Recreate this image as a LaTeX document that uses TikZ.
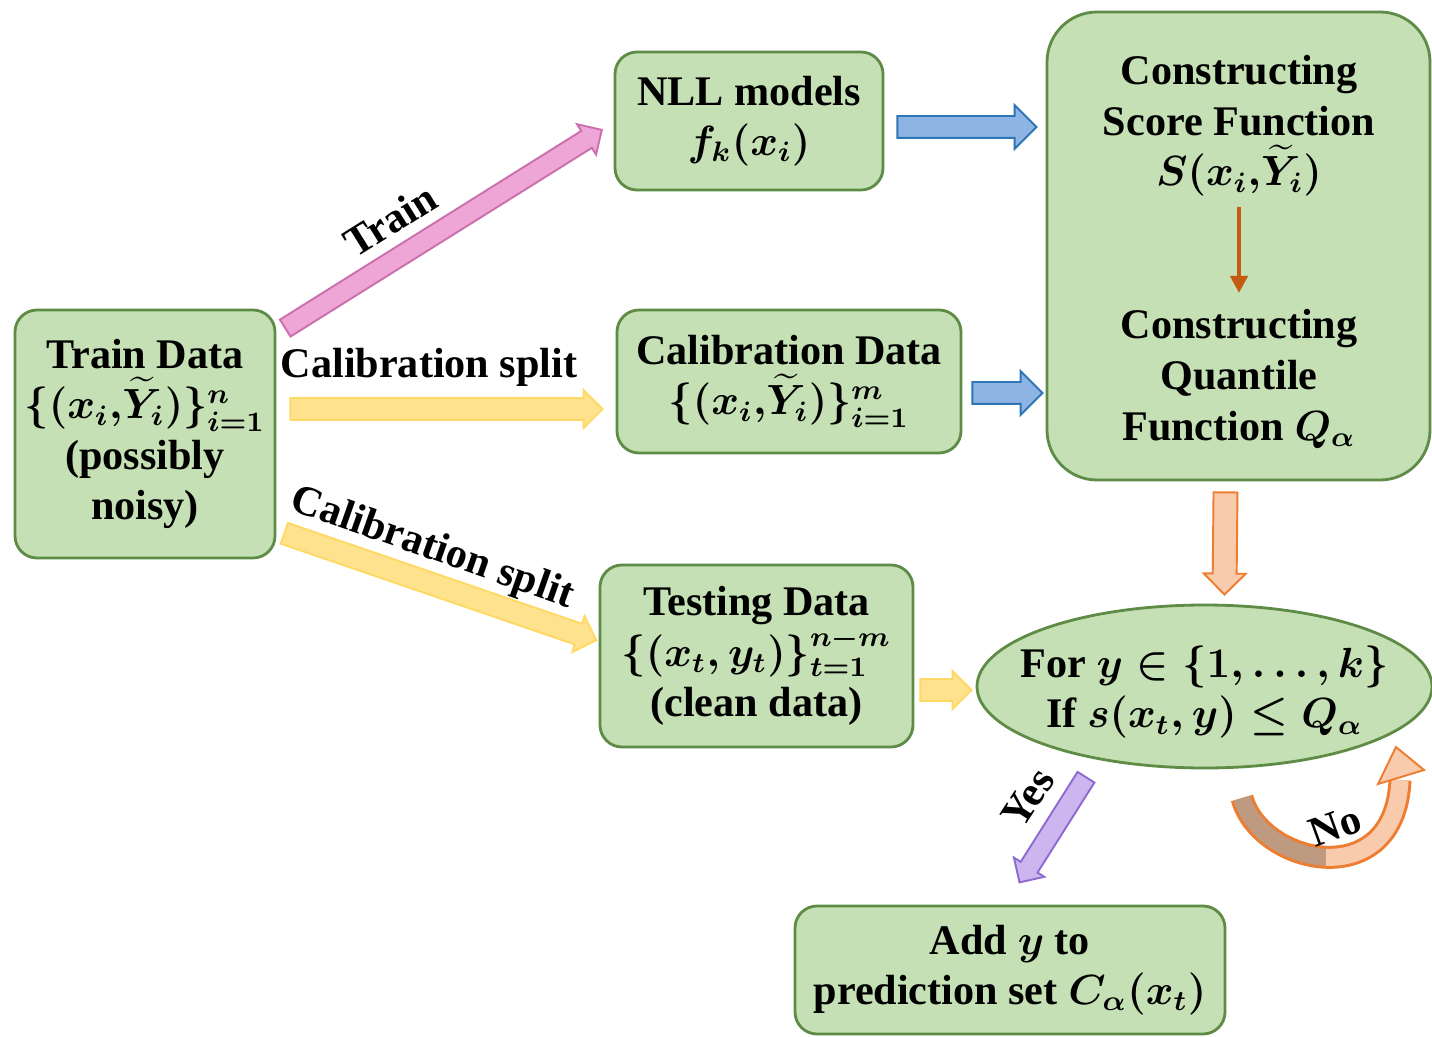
\documentclass[tikz,border=0pt]{standalone}
\usepackage{fontspec}
\setmainfont{Liberation Serif}
\usepackage{amsmath, amssymb}
\definecolor{boxfill}   {HTML}{C5E0B4}
\definecolor{boxline}   {HTML}{5E8C46}
\definecolor{pinkfill}  {HTML}{EDA6D6}
\definecolor{pinkline}  {HTML}{CC6FAE}
\definecolor{yelfill}   {HTML}{FFE28E}
\definecolor{yelline}   {HTML}{FFD966}
\definecolor{bluefill}  {HTML}{8DB4E2}
\definecolor{blueline}  {HTML}{2E75B6}
\definecolor{orgfill}   {HTML}{F8CBAD}
\definecolor{orgline}   {HTML}{ED7D31}
\definecolor{brownfill} {HTML}{BE9A80}
\definecolor{purfill}   {HTML}{CDB6EF}
\definecolor{purline}   {HTML}{8E6BD0}
\definecolor{innerarr}  {HTML}{C55A11}
\usetikzlibrary{arrows.meta, positioning, calc, shapes.geometric, shapes.arrows}

% block arrow laid from one coordinate to another
\newcommand\fatarrow[3]{%
  \path let \p1=($(#3)-(#2)$), \n1={atan2(\y1,\x1)}, \n2={veclen(\x1,\y1)} in
    node[#1, minimum height=\n2, rotate=\n1, anchor=tail] at (#2) {};}

\begin{document}
\begin{tikzpicture}[
    box/.style={draw=boxline, fill=boxfill, line width=0.8pt, rounded corners=0.22cm, align=center, inner sep=0pt, font=\fontsize{12}{14.4}\selectfont\bfseries\boldmath},
    txt/.style={align=center, inner sep=0pt, font=\fontsize{12}{14.4}\selectfont\bfseries\boldmath},
    fat/.style={single arrow, inner sep=0pt, text depth=0pt, single arrow tip angle=90, line width=0.55pt},
    pinkarr/.style={fat, fill=pinkfill, draw=pinkline, text height=0.18cm, single arrow head extend=0.08cm},
    yelarr/.style={fat, fill=yelfill, draw=yelline, text height=0.2cm, single arrow head extend=0.08cm},
    bluearr/.style={fat, fill=bluefill, draw=blueline, text height=0.2cm, single arrow head extend=0.11cm},
    orgarr/.style={fat, fill=orgfill, draw=orgline, text height=0.22cm, single arrow head extend=0.09cm},
    purarr/.style={fat, fill=purfill, draw=purline, text height=0.18cm, single arrow head extend=0.08cm}
]
    \useasboundingbox (0,0) rectangle (14.32,-10.37);

    % blocks
    \node[box, minimum width=2.60cm, minimum height=2.48cm] (train) at (1.45,-4.34) {Train Data\\$\{(x_i{,}\widetilde{Y}_i)\}_{i=1}^{n}$\\(possibly\\noisy)};
    \node[box, minimum width=2.68cm, minimum height=1.38cm] (nll) at (7.49,-1.21) {NLL models\\$f_k(x_i)$};
    \node[box, minimum width=3.44cm, minimum height=1.43cm] (calib) at (7.89,-3.815) {Calibration Data\\$\{(x_i{,}\widetilde{Y}_i)\}_{i=1}^{m}$};
    \node[box, minimum width=3.13cm, minimum height=1.82cm] (test) at (7.565,-6.56) {Testing Data\\$\{(x_t{,}\,y_t)\}_{t=1}^{n-m}$\\(clean data)};
    \node[box, rounded corners=0.5cm, minimum width=3.83cm, minimum height=4.68cm] (score) at (12.385,-2.46) {};
    \node[txt] (scoretxt) at (12.39,-1.26) {Constructing\\Score Function\\$S(x_i{,}\widetilde{Y}_i)$};
    \node[txt] (quanttxt) at (12.39,-3.79) {Constructing\\Quantile\\Function $Q_\alpha$};
    \node[box, ellipse, minimum width=4.55cm, minimum height=1.63cm] (cond) at (12.045,-6.865) {};
    \node[txt] (condtxt) at (12.045,-6.92) {For $y\in\{1,\ldots,k\}$\\If $s(x_t{,}\,y)\le Q_\alpha$};
    \node[box, minimum width=4.30cm, minimum height=1.28cm] (add) at (10.10,-9.70) {Add $y$ to\\prediction set $C_\alpha(x_t)$};

    % arrow ends
    \coordinate (p1) at ($(train.north east)+(0.08,-0.20)$);
    \coordinate (p2) at ($(nll.west)+(-0.12,-0.09)$);
    \coordinate (y1) at ($(train.east)+(0.13,0.25)$);
    \coordinate (y2) at ($(calib.west)+(-0.14,-0.275)$);
    \coordinate (y3) at ($(train.east)+(0.07,-0.99)$);
    \coordinate (y4) at ($(test.west)+(-0.03,0.16)$);
    \coordinate (b1) at ($(nll.east)+(0.12,-0.06)$);
    \coordinate (b2) at ($(score.west)+(-0.10,1.19)$);
    \coordinate (b3) at ($(calib.east)+(0.09,-0.115)$);
    \coordinate (b4) at ($(score.west)+(-0.04,-1.47)$);
    \coordinate (o1) at ($(score.south)+(-0.13,-0.10)$);
    \coordinate (o2) at ($(cond.north)+(0.20,0.10)$);
    \coordinate (y5) at ($(test.east)+(0.05,-0.34)$);
    \coordinate (y6) at ($(cond.west)+(-0.05,-0.035)$);
    \coordinate (u1) at ($(cond.south)+(-1.18,-0.07)$);
    \coordinate (u2) at ($(add.north)+(0.10,0.23)$);

    % block arrows
    \fatarrow{pinkarr}{p1}{p2}
    \fatarrow{yelarr}{y1}{y2}
    \fatarrow{yelarr}{y3}{y4}
    \fatarrow{bluearr}{b1}{b2}
    \fatarrow{bluearr}{b3}{b4}
    \fatarrow{orgarr}{o1}{o2}
    \fatarrow{yelarr}{y5}{y6}
    \fatarrow{purarr}{u1}{u2}
    \draw[innerarr, line width=1.3pt, -{Triangle[length=0.17cm, width=0.17cm]}] (scoretxt.south) ++(0,-0.10) -- ($(quanttxt.north)+(0,0.16)$);

    % the "No" loop
    \coordinate (n0) at (12.42,-7.98);
    \coordinate (nm) at (13.259,-8.5725);
    \coordinate (n3) at (14.00,-7.80);
    \draw[orgline, line width=0.23cm] (n0) .. controls (12.60,-8.65) and (13.95,-8.95) .. (n3);
    \draw[brownfill, line width=0.17cm] (n0) .. controls (12.51,-8.315) and (12.8925,-8.5575) .. (nm);
    \draw[orgfill, line width=0.17cm] (nm) .. controls (13.625,-8.5875) and (13.975,-8.375) .. (n3);
    \filldraw[fill=orgfill, draw=orgline, line width=0.55pt] (13.96,-7.47) -- (14.24,-7.70) -- (13.78,-7.84) -- cycle;

    % labels
    \node[txt, rotate=32] (ltrain) at (3.90,-2.20) {Train};
    \node[txt] (lcal1) at (4.29,-3.67) {Calibration split};
    \node[txt, rotate=-19.5] (lcal2) at (4.32,-5.49) {Calibration split};
    \node[txt, rotate=57] (lyes) at (10.28,-7.98) {Yes};
    \node[txt, rotate=20] (lno) at (13.35,-8.26) {No};
\end{tikzpicture}
\end{document}
